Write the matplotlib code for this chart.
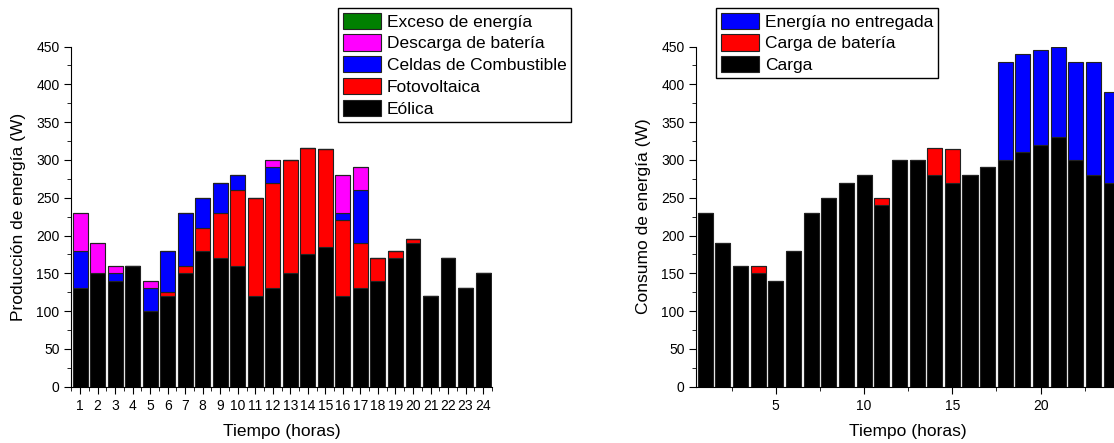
import matplotlib
matplotlib.use("Agg")
import matplotlib.pyplot as plt
import numpy as np
from matplotlib.ticker import MultipleLocator

plt.rcParams["font.family"] = ["Liberation Sans", "DejaVu Sans"]

hours = np.arange(1, 25)

# generation (W), stacked bottom to top
eolica = [130, 150, 140, 160, 100, 120, 150, 180, 170, 160, 120, 130,
          150, 175, 185, 120, 130, 140, 170, 190, 120, 170, 130, 150]
fotovoltaica = [0, 0, 0, 0, 0, 5, 10, 30, 60, 100, 130, 140,
                150, 141, 130, 100, 60, 30, 10, 5, 0, 0, 0, 0]
celdas = [50, 0, 10, 0, 30, 55, 70, 40, 40, 20, 0, 20,
          0, 0, 0, 10, 70, 0, 0, 0, 0, 0, 0, 0]
descarga = [50, 40, 10, 0, 10, 0, 0, 0, 0, 0, 0, 10,
            0, 0, 0, 50, 30, 0, 0, 0, 0, 0, 0, 0]
exceso = [0] * 24

# consumption (W), stacked bottom to top
carga = [230, 190, 160, 150, 140, 180, 230, 250, 270, 280, 240, 300,
         300, 280, 270, 280, 290, 300, 310, 320, 330, 300, 280, 270]
carga_bateria = [0, 0, 0, 10, 0, 0, 0, 0, 0, 0, 10, 0,
                 0, 36, 45, 0, 0, 0, 0, 0, 0, 0, 0, 0]
no_entregada = [0, 0, 0, 0, 0, 0, 0, 0, 0, 0, 0, 0,
                0, 0, 0, 0, 0, 130, 130, 125, 120, 130, 150, 120]

W = 0.85
EDGE = dict(edgecolor="#222222", linewidth=0.8)


def stack(ax, series):
    bottom = np.zeros(len(hours))
    handles = []
    for vals, color, label in series:
        h = ax.bar(hours, vals, W, bottom=bottom, color=color, label=label, **EDGE)
        bottom = bottom + np.array(vals)
        handles.append(h)
    return handles


def style(ax):
    for s in ("top", "right"):
        ax.spines[s].set_visible(False)
    ax.set_xlim(0.5, 24.5)
    ax.set_ylim(0, 450)
    ax.yaxis.set_major_locator(MultipleLocator(50))
    ax.yaxis.set_minor_locator(MultipleLocator(25))
    ax.tick_params(which="both", direction="out", labelsize=10)
    ax.tick_params(which="major", length=5)
    ax.tick_params(which="minor", length=3)
    ax.set_xlabel("Tiempo (horas)", fontsize=12.5, labelpad=8.5)


fig = plt.figure(figsize=(11.14, 4.43), dpi=100)
ax1 = fig.add_axes([0.064, 0.127, 0.3775, 0.768])
ax2 = fig.add_axes([0.625, 0.127, 0.3805, 0.768])

h1 = stack(ax1, [
    (eolica, "black", "Eólica"),
    (fotovoltaica, "red", "Fotovoltaica"),
    (celdas, "blue", "Celdas de Combustible"),
    (descarga, "magenta", "Descarga de batería"),
    (exceso, "green", "Exceso de energía"),
])
style(ax1)
ax1.set_xticks(hours)
ax1.xaxis.set_minor_locator(MultipleLocator(0.5))
ax1.set_ylabel("Producción de energía (W)", fontsize=12.5, labelpad=7)

h2 = stack(ax2, [
    (carga, "black", "Carga"),
    (carga_bateria, "red", "Carga de batería"),
    (no_entregada, "blue", "Energía no entregada"),
])
style(ax2)
ax2.xaxis.set_major_locator(MultipleLocator(5))
ax2.xaxis.set_minor_locator(MultipleLocator(2.5))
ax2.set_ylabel("Consumo de energía (W)", fontsize=12.5, labelpad=7)

leg_kw = dict(loc="upper left", fontsize=12.5, fancybox=False, framealpha=1,
              edgecolor="black", handlelength=2.2, handleheight=1.05,
              labelspacing=0.28, borderpad=0.27, handletextpad=0.35,
              borderaxespad=0)
l1 = fig.legend(h1[::-1], [h.get_label() for h in h1[::-1]],
                bbox_to_anchor=(0.3034, 0.982), **leg_kw)
l2 = fig.legend(h2[::-1], [h.get_label() for h in h2[::-1]],
                bbox_to_anchor=(0.6427, 0.982), **leg_kw)
for lg in (l1, l2):
    lg.get_frame().set_linewidth(1.0)

fig.savefig("out.png", dpi=100)
